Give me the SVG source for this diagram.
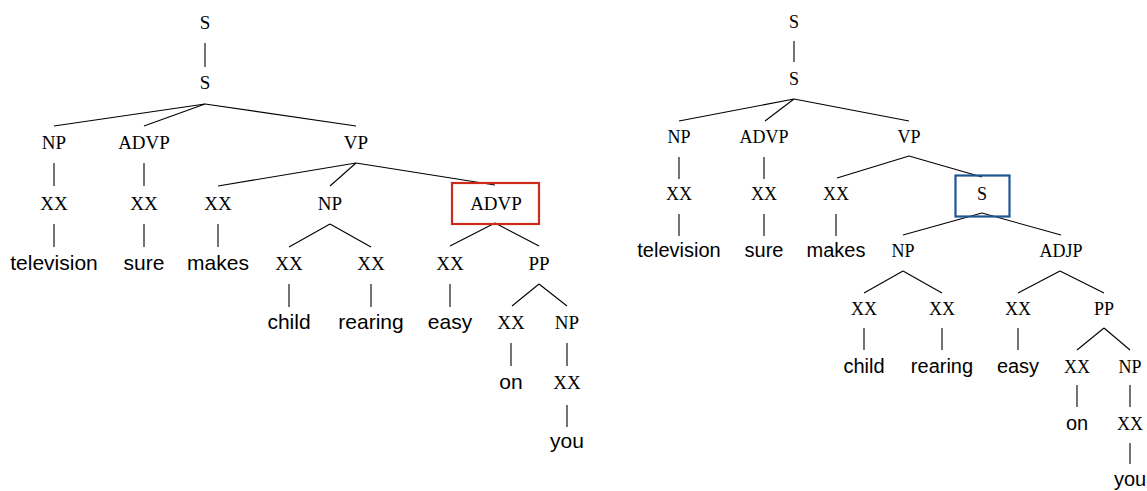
<svg xmlns="http://www.w3.org/2000/svg" width="1147" height="491" viewBox="0 0 1147 491">
<style>
.l{font-family:"Liberation Serif","DejaVu Serif",serif;font-size:19px;fill:#000;text-anchor:middle}
.w{font-family:"Liberation Sans","DejaVu Sans",sans-serif;font-size:21px;fill:#000;text-anchor:middle}
.r .l{font-size:18px}
.r .w{font-size:20px}
.e{stroke:#000;stroke-width:1.1;fill:none}
</style>
<rect width="1147" height="491" fill="#fff"/>
<g id="left">
<g id="connectors-left" class="e">
<line x1="205" y1="43" x2="205" y2="67"/>
<line x1="205" y1="104" x2="54" y2="126"/>
<line x1="205" y1="104" x2="144" y2="126"/>
<line x1="205" y1="104" x2="356" y2="126"/>
<line x1="54" y1="163" x2="54" y2="186"/>
<line x1="144" y1="163" x2="144" y2="186"/>
<line x1="356" y1="163" x2="218" y2="186"/>
<line x1="356" y1="163" x2="330" y2="186"/>
<line x1="356" y1="163" x2="495" y2="185"/>
<line x1="54" y1="224" x2="54" y2="247"/>
<line x1="144" y1="224" x2="144" y2="247"/>
<line x1="218" y1="224" x2="218" y2="247"/>
<line x1="330" y1="224" x2="289" y2="247"/>
<line x1="330" y1="224" x2="371" y2="247"/>
<line x1="495" y1="223" x2="450" y2="246"/>
<line x1="495" y1="223" x2="539" y2="246"/>
<line x1="289" y1="284" x2="289" y2="307"/>
<line x1="371" y1="284" x2="371" y2="307"/>
<line x1="450" y1="284" x2="450" y2="307"/>
<line x1="539" y1="284" x2="512" y2="306"/>
<line x1="539" y1="284" x2="567" y2="306"/>
<line x1="511" y1="343" x2="511" y2="366"/>
<line x1="567" y1="343" x2="567" y2="366"/>
<line x1="567" y1="405" x2="567" y2="427"/>
</g>
<g id="L-S0"><text class="l" x="205" y="29">S</text></g>
<g id="L-S1"><text class="l" x="205" y="89">S</text></g>
<g id="L-NP"><text class="l" x="54" y="149">NP</text></g>
<g id="L-ADVP"><text class="l" x="144" y="149">ADVP</text></g>
<g id="L-VP"><text class="l" x="356" y="149">VP</text></g>
<g id="L-XX1"><text class="l" x="54" y="210">XX</text></g>
<g id="L-XX2"><text class="l" x="144" y="210">XX</text></g>
<g id="L-XX3"><text class="l" x="218" y="210">XX</text></g>
<g id="L-NP2"><text class="l" x="330" y="210">NP</text></g>
<g id="L-ADVP2"><rect x="452" y="183" width="87" height="41" fill="none" stroke="#cc2a1a" stroke-width="2.2"/><text class="l" x="496" y="210">ADVP</text></g>
<g id="L-television"><text class="w" x="54" y="270">television</text></g>
<g id="L-sure"><text class="w" x="144" y="270">sure</text></g>
<g id="L-makes"><text class="w" x="218" y="270">makes</text></g>
<g id="L-XX4"><text class="l" x="289" y="270">XX</text></g>
<g id="L-XX5"><text class="l" x="371" y="270">XX</text></g>
<g id="L-XX6"><text class="l" x="450" y="270">XX</text></g>
<g id="L-PP"><text class="l" x="539" y="270">PP</text></g>
<g id="L-child"><text class="w" x="289" y="329">child</text></g>
<g id="L-rearing"><text class="w" x="371" y="329">rearing</text></g>
<g id="L-easy"><text class="w" x="450" y="329">easy</text></g>
<g id="L-XX7"><text class="l" x="511" y="329">XX</text></g>
<g id="L-NP3"><text class="l" x="567" y="329">NP</text></g>
<g id="L-on"><text class="w" x="511" y="389">on</text></g>
<g id="L-XX8"><text class="l" x="567" y="389">XX</text></g>
<g id="L-you"><text class="w" x="567" y="448">you</text></g>
</g>
<g id="right" class="r">
<g id="connectors-right" class="e">
<line x1="794" y1="41" x2="794" y2="62"/>
<line x1="794" y1="99" x2="679" y2="121"/>
<line x1="794" y1="99" x2="765" y2="121"/>
<line x1="794" y1="99" x2="909" y2="121"/>
<line x1="679" y1="157" x2="679" y2="179"/>
<line x1="764" y1="157" x2="764" y2="179"/>
<line x1="909" y1="156" x2="837" y2="178"/>
<line x1="909" y1="156" x2="982" y2="177"/>
<line x1="679" y1="214" x2="679" y2="236"/>
<line x1="764" y1="214" x2="764" y2="236"/>
<line x1="836" y1="214" x2="836" y2="236"/>
<line x1="982" y1="213" x2="903" y2="235"/>
<line x1="982" y1="213" x2="1061" y2="235"/>
<line x1="903" y1="271" x2="864" y2="293"/>
<line x1="903" y1="271" x2="942" y2="293"/>
<line x1="1060" y1="271" x2="1018" y2="293"/>
<line x1="1060" y1="271" x2="1104" y2="293"/>
<line x1="864" y1="328" x2="864" y2="350"/>
<line x1="942" y1="328" x2="942" y2="350"/>
<line x1="1018" y1="328" x2="1018" y2="350"/>
<line x1="1104" y1="328" x2="1077" y2="350"/>
<line x1="1104" y1="328" x2="1130" y2="350"/>
<line x1="1077" y1="385" x2="1077" y2="407"/>
<line x1="1130" y1="385" x2="1130" y2="407"/>
<line x1="1130" y1="443" x2="1130" y2="464"/>
</g>
<g id="R-S0"><text class="l" x="794" y="28">S</text></g>
<g id="R-S1"><text class="l" x="794" y="85">S</text></g>
<g id="R-NP"><text class="l" x="679" y="143">NP</text></g>
<g id="R-ADVP"><text class="l" x="764" y="143">ADVP</text></g>
<g id="R-VP"><text class="l" x="909" y="143">VP</text></g>
<g id="R-XX1"><text class="l" x="679" y="200">XX</text></g>
<g id="R-XX2"><text class="l" x="764" y="200">XX</text></g>
<g id="R-XX3"><text class="l" x="836" y="200">XX</text></g>
<g id="R-S2"><rect x="955.5" y="175.5" width="54" height="41" fill="none" stroke="#1f5592" stroke-width="2.2"/><text class="l" x="982" y="200">S</text></g>
<g id="R-television"><text class="w" x="679" y="257">television</text></g>
<g id="R-sure"><text class="w" x="764" y="257">sure</text></g>
<g id="R-makes"><text class="w" x="836" y="257">makes</text></g>
<g id="R-NP2"><text class="l" x="903" y="257">NP</text></g>
<g id="R-ADJP"><text class="l" x="1061" y="257">ADJP</text></g>
<g id="R-XX4"><text class="l" x="864" y="315">XX</text></g>
<g id="R-XX5"><text class="l" x="942" y="315">XX</text></g>
<g id="R-XX6"><text class="l" x="1018" y="315">XX</text></g>
<g id="R-PP"><text class="l" x="1104" y="315">PP</text></g>
<g id="R-child"><text class="w" x="864" y="373">child</text></g>
<g id="R-rearing"><text class="w" x="942" y="373">rearing</text></g>
<g id="R-easy"><text class="w" x="1018" y="373">easy</text></g>
<g id="R-XX7"><text class="l" x="1077" y="373">XX</text></g>
<g id="R-NP3"><text class="l" x="1130" y="373">NP</text></g>
<g id="R-on"><text class="w" x="1077" y="430">on</text></g>
<g id="R-XX8"><text class="l" x="1130" y="430">XX</text></g>
<g id="R-you"><text class="w" x="1130" y="486">you</text></g>
</g>
</svg>
